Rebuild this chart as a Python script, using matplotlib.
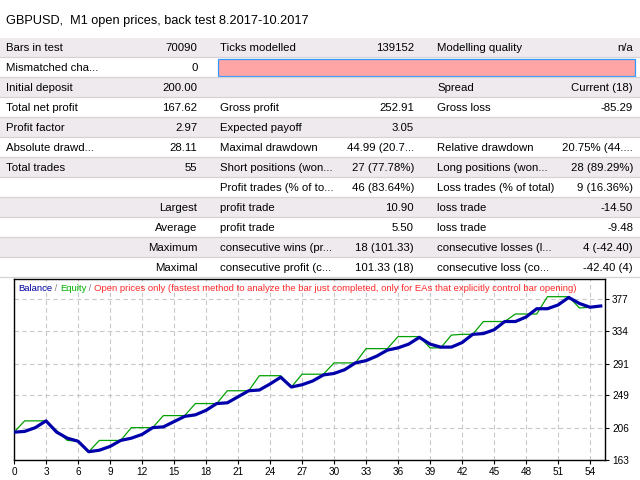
import matplotlib
matplotlib.use('Agg')
import matplotlib.pyplot as plt
from matplotlib.patches import Rectangle

plt.rcParams['font.family'] = ['Liberation Sans', 'DejaVu Sans']

title = 'GBPUSD,  M1 open prices, back test 8.2017-10.2017'

# report table, 12 rows, three label/value pairs per row
col1_labels = ['Bars in test', 'Mismatched cha...', 'Initial deposit', 'Total net profit',
               'Profit factor', 'Absolute drawd...', 'Total trades', '', '', '', '', '']
col1_values = ['70090', '0', '200.00', '167.62', '2.97', '28.11', '55', '', '', '', '', '']
stat_heads = ['', '', '', '', '', '', '', '', 'Largest', 'Average', 'Maximum', 'Maximal']
col2_labels = ['Ticks modelled', '', '', 'Gross profit', 'Expected payoff', 'Maximal drawdown',
               'Short positions (won...', 'Profit trades (% of to...', 'profit trade',
               'profit trade', 'consecutive wins (pr...', 'consecutive profit (c...']
col2_values = ['139152', '', '', '252.91', '3.05', '44.99 (20.7...', '27 (77.78%)',
               '46 (83.64%)', '10.90', '5.50', '18 (101.33)', '101.33 (18)']
col3_labels = ['Modelling quality', '', 'Spread', 'Gross loss', '', 'Relative drawdown',
               'Long positions (won...', 'Loss trades (% of total)', 'loss trade',
               'loss trade', 'consecutive losses (l...', 'consecutive loss (co...']
col3_values = ['n/a', '', 'Current (18)', '-85.29', '', '20.75% (44....', '28 (89.29%)',
               '9 (16.36%)', '-14.50', '-9.48', '4 (-42.40)', '-42.40 (4)']

# balance / equity per trade number
balance = [200, 201, 206, 215, 200, 192, 188, 174, 176, 181,
           189, 192, 197, 206, 207, 214, 221, 223, 229, 238,
           239, 247, 255, 256, 264, 273, 260, 263, 268, 276,
           278, 283, 292, 295, 301, 309, 312, 317, 326, 317,
           313, 313, 319, 330, 331, 336, 347, 347, 353, 364,
           364, 369, 379, 371, 366, 367.62]
equity = [200, 215, 215, 215, 202, 189, 188, 174, 189, 189,
          189, 206, 206, 206, 222, 222, 222, 238, 238, 238,
          255, 255, 255, 275, 275, 275, 260, 277, 277, 277,
          292, 292, 292, 311, 311, 311, 327, 327, 327, 312,
          312, 329, 330, 330, 347, 347, 347, 357, 357, 357,
          380, 380, 380, 365, 366, 367.62]
x_ticks = list(range(0, 55, 3))
y_ticks = [163, 206, 249, 291, 334, 377]

fig = plt.figure(figsize=(6.4, 4.8), dpi=100)
fig.patch.set_facecolor('white')

# table drawn in pixel coordinates
tab = fig.add_axes([0, 0, 1, 1])
tab.set_xlim(0, 640)
tab.set_ylim(480, 0)
tab.axis('off')

fs = 8.2
tab.text(6.5, 24, title, fontsize=9.2, va='baseline', ha='left')

for k in range(12):
    top = 37 + 20 * k
    if k % 2 == 0:
        tab.add_patch(Rectangle((0, top + 1), 640, 19, color='#EEEAEE', lw=0))
    tab.plot([0, 640], [top + 20, top + 20], color='#D6D2D6', lw=0.9)
    yb = top + 14
    tab.text(6.5, yb, col1_labels[k], fontsize=fs, va='baseline', ha='left')
    tab.text(197.5, yb, col1_values[k], fontsize=fs, va='baseline', ha='right')
    tab.text(197.5, yb, stat_heads[k], fontsize=fs, va='baseline', ha='right')
    tab.text(220, yb, col2_labels[k], fontsize=fs, va='baseline', ha='left')
    tab.text(414, yb, col2_values[k], fontsize=fs, va='baseline', ha='right')
    tab.text(437, yb, col3_labels[k], fontsize=fs, va='baseline', ha='left')
    tab.text(633, yb, col3_values[k], fontsize=fs, va='baseline', ha='right')

# pink modelling quality bar
tab.add_patch(Rectangle((217.5, 58.5), 417, 17, facecolor='#FFA5A5', edgecolor='#3399FF', lw=0.9))

# chart
ax = fig.add_axes([14 / 640, 20 / 480, 591 / 640, 181 / 480])
ax.set_zorder(2)
n = list(range(len(balance)))
ax.plot(n, equity, color='#00A000', lw=0.9, zorder=3)
ax.plot(n, balance, color='#0000AA', lw=2.3, zorder=4)
ax.set_xlim(0, 55.4)
ax.set_ylim(163, 403.5)
ax.set_xticks(x_ticks)
ax.set_yticks(y_ticks)
ax.set_yticklabels([str(v) for v in y_ticks])
ax.yaxis.tick_right()
ax.tick_params(axis='both', labelsize=7.2, length=3, width=0.8, pad=2, colors='black')
ax.grid(True, color='#C8C8C8', ls=(0, (4, 3)), lw=0.8)
for s in ax.spines.values():
    s.set_color('black')
    s.set_linewidth(1)

leg = [('Balance', '#0000A0'), (' / ', '#808080'), ('Equity', '#00B000'), (' / ', '#808080'),
       ('Open prices only (fastest method to analyze the bar just completed, only for EAs that explicitly control bar opening)', '#FF2A2A')]
prev = ax.text(4 / 591, 0.95, leg[0][0], color=leg[0][1], fontsize=6.8,
               transform=ax.transAxes, va='center', ha='left', zorder=5)
for txt, c in leg[1:]:
    prev = ax.annotate(txt, xy=(1, 0), xycoords=prev, va='bottom', ha='left',
                       color=c, fontsize=6.8, zorder=5)

fig.savefig('out.png', dpi=100)
